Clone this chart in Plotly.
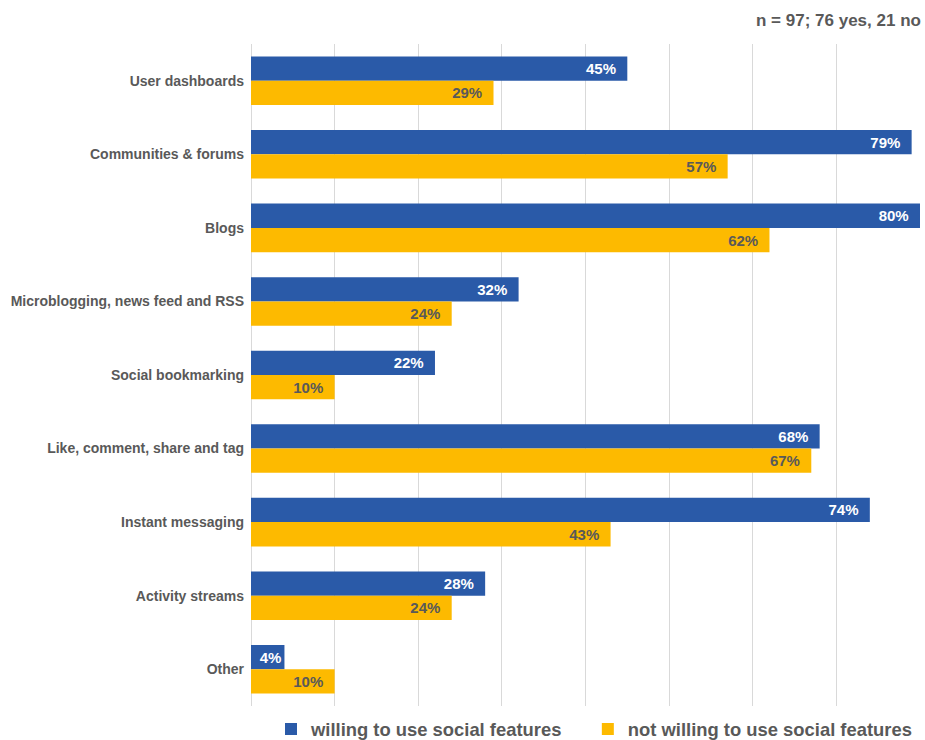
import plotly.graph_objects as go

categories = ["User dashboards", "Communities & forums", "Blogs",
              "Microblogging, news feed and RSS", "Social bookmarking",
              "Like, comment, share and tag", "Instant messaging",
              "Activity streams", "Other"]
willing = [45, 79, 80, 32, 22, 68, 74, 28, 4]
not_willing = [29, 57, 62, 24, 10, 67, 43, 24, 10]
series_names = ["willing to use social features", "not willing to use social features"]
note = "n = 97; 76 yes, 21 no"

BLUE = "#2A5AA8"
GOLD = "#FDBA00"
GRAY = "#595959"
FONT = "Liberation Sans, Arial, sans-serif"
PAD = "\u00a0\u00a0"
LEGEND_SPACER = "\u00a0" * 4


def labels(vals):
    return [f"{v}%" + (PAD if v > 5 else "") for v in vals]


fig = go.Figure()
fig.add_trace(go.Bar(
    y=categories, x=willing, orientation="h", name=series_names[0] + LEGEND_SPACER,
    marker=dict(color=BLUE, line=dict(width=0)),
    text=labels(willing), textposition="inside",
    insidetextanchor="end", textangle=0,
    textfont=dict(family=FONT, size=15, color="white", weight="bold"),
    cliponaxis=False,
))
fig.add_trace(go.Bar(
    y=categories, x=not_willing, orientation="h", name=series_names[1],
    marker=dict(color=GOLD, line=dict(width=0)),
    text=labels(not_willing), textposition="inside",
    insidetextanchor="end", textangle=0,
    textfont=dict(family=FONT, size=15, color=GRAY, weight="bold"),
    cliponaxis=False,
))

W, H = 925, 740
M = dict(l=251, r=5, t=44, b=34)
plot_w = W - M["l"] - M["r"]
plot_h = H - M["t"] - M["b"]
fig.update_layout(
    width=W, height=H,
    margin=dict(**M, autoexpand=False),
    barmode="group", bargap=0.34, bargroupgap=0,
    plot_bgcolor="white", paper_bgcolor="white",
    font=dict(family=FONT, color=GRAY),
    xaxis=dict(range=[0, 80], dtick=10, showticklabels=False,
               showgrid=True, gridcolor="#D9D9D9", gridwidth=1,
               zeroline=True, zerolinecolor="#D9D9D9", zerolinewidth=1,
               ticks="", showline=False, fixedrange=True, automargin=False),
    yaxis=dict(autorange="reversed", ticks="", showline=False, automargin=False,
               fixedrange=True,
               tickfont=dict(family=FONT, size=14, color=GRAY, weight="bold"),
               ticklabelstandoff=6),
    legend=dict(orientation="h", x=(271 - M["l"]) / plot_w, xanchor="left",
                y=-23 / plot_h, yanchor="middle",
                font=dict(family=FONT, size=18.4, color=GRAY, weight="bold"),
                itemwidth=30),
    showlegend=True,
    annotations=[dict(text=note, xref="paper", yref="paper", x=1, y=1,
                      xanchor="right", yanchor="middle", yshift=24, xshift=3,
                      showarrow=False,
                      font=dict(family=FONT, size=17, color=GRAY, weight="bold"))],
)

fig.write_html(
    "out.html",
    config={"displayModeBar": False},
    post_script="document.body.style.margin='0';document.body.style.overflow='hidden';",
)
